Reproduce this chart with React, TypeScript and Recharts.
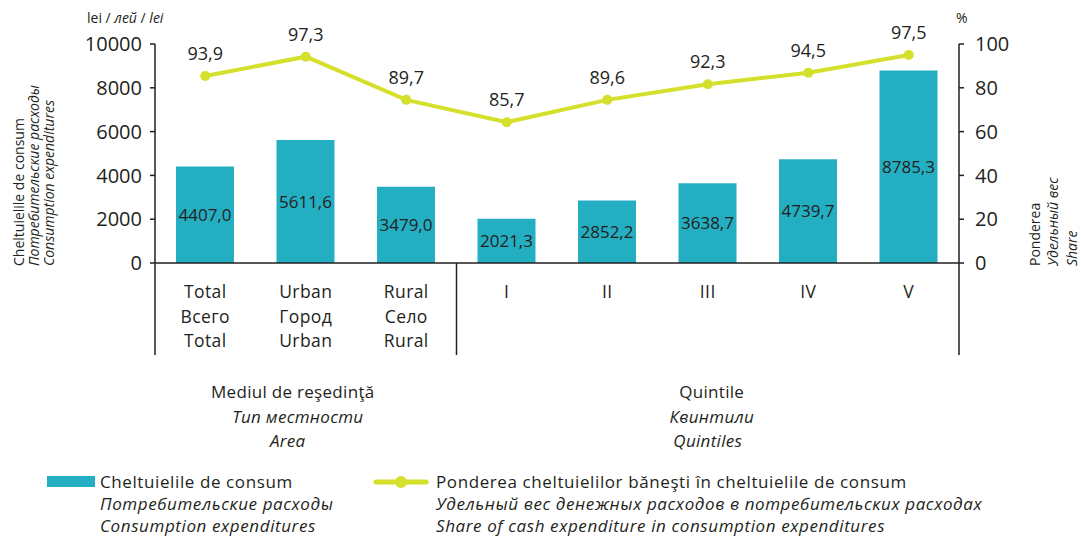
import React from 'react'
import {
  ComposedChart,
  Bar,
  Line,
  XAxis,
  YAxis,
  LabelList,
} from 'recharts'

// categories (3 lines each: ro / ru / en)
const categories = ['Total', 'Urban', 'Rural', 'I', 'II', 'III', 'IV', 'V']
const categoriesRu = ['Всего', 'Город', 'Село', '', '', '', '', '']
const categoriesEn = ['Total', 'Urban', 'Rural', '', '', '', '', '']

// consumption expenditures, lei
const spending = [4407.0, 5611.6, 3479.0, 2021.3, 2852.2, 3638.7, 4739.7, 8785.3]

// share of cash expenditure: plotted position (as drawn) and printed label
const shareDrawn = [85.4, 94.2, 74.5, 64.3, 74.5, 81.6, 86.9, 95.0]
const shareLabels = ['93,9', '97,3', '89,7', '85,7', '89,6', '92,3', '94,5', '97,5']

const leftTicks = [0, 2000, 4000, 6000, 8000, 10000]
const rightTicks = [0, 20, 40, 60, 80, 100]

const data = categories.map((c, i) => ({
  cat: c,
  spend: spending[i],
  share: shareDrawn[i],
}))

const TEAL = '#24aec2'
const LIME = '#d4e02b'
const INK = '#231f20'
const FONT = '"Open Sans", sans-serif'

const CategoryTick = (props: any) => {
  const { x, y, payload, index } = props
  const half = payload?.offset ? payload.offset : 50.25
  const i = index ?? payload.index
  return (
    <g>
      {i === 0 && <line x1={x - half} x2={x - half} y1={y} y2={y + 92} stroke={INK} strokeWidth={1.5} />}
      {i === 3 && <line x1={x - half} x2={x - half} y1={y} y2={y + 92} stroke={INK} strokeWidth={1.5} />}
      {i === 7 && <line x1={x + half} x2={x + half} y1={y} y2={y + 92} stroke={INK} strokeWidth={1.5} />}
      <g fontSize={17.5} fill={INK} fontFamily={FONT} textAnchor="middle" letterSpacing={0.4}>
        <text x={x} y={y + 35}>{categories[i]}</text>
        <text x={x} y={y + 59.5}>{categoriesRu[i]}</text>
        <text x={x} y={y + 84}>{categoriesEn[i]}</text>
      </g>
      {i === 1 && (
        <g fontSize={17} fill={INK} fontFamily={FONT} textAnchor="middle" letterSpacing={0.3}>
          <text x={x - 13} y={y + 135}>Mediul de reşedinţă</text>
          <text x={x - 8} y={y + 160} fontStyle="italic">Тип местности</text>
          <text x={x - 18} y={y + 184} fontStyle="italic">Area</text>
        </g>
      )}
      {i === 5 && (
        <g fontSize={17} fill={INK} fontFamily={FONT} textAnchor="middle" letterSpacing={0.3}>
          <text x={x + 4} y={y + 135}>Quintile</text>
          <text x={x + 4} y={y + 160} fontStyle="italic">Квинтили</text>
          <text x={x} y={y + 184} fontStyle="italic">Quintiles</text>
        </g>
      )}
    </g>
  )
}

const ShareLabel = (props: any) => {
  const { x, y, index } = props
  return (
    <text x={x} y={y - 23} textAnchor="middle" dominantBaseline="central" fontSize={18} fill={INK} fontFamily={FONT}>
      {shareLabels[index]}
    </text>
  )
}

export default function App() {
  return (
    <div style={{ position: 'absolute', left: 0, top: 0, width: 1081, height: 537, background: '#fff', fontFamily: FONT, color: INK, overflow: 'hidden' }}>
      <ComposedChart
        width={1081}
        height={537}
        data={data}
        margin={{ top: 44, right: 62, left: 95, bottom: 179 }}
      >
        <XAxis
          dataKey="cat"
          xAxisId="x"
          height={95}
          tickLine={false}
          tickSize={0}
          tickMargin={0}
          axisLine={{ stroke: INK, strokeWidth: 1.5 }}
          tick={<CategoryTick />}
          interval={0}
        />
        <YAxis
          yAxisId="left"
          width={60}
          domain={[0, 10000]}
          ticks={leftTicks}
          interval={0}
          tickSize={5}
          tickLine={{ stroke: INK, strokeWidth: 1.5 }}
          axisLine={{ stroke: INK, strokeWidth: 1.5 }}
          tick={{ fill: INK, fontSize: 20, fontFamily: FONT }}
          tickMargin={8}
        />
        <YAxis
          yAxisId="right"
          orientation="right"
          width={60}
          domain={[0, 100]}
          ticks={rightTicks}
          interval={0}
          tickSize={5}
          tickLine={{ stroke: INK, strokeWidth: 1.5 }}
          axisLine={{ stroke: INK, strokeWidth: 1.5 }}
          tick={{ fill: INK, fontSize: 20, fontFamily: FONT }}
          tickMargin={11}
        />
        <Bar xAxisId="x" yAxisId="left" dataKey="spend" fill={TEAL} barSize={58} isAnimationActive={false}>
          <LabelList
            dataKey="spend"
            position="center"
            fill={INK}
            fontSize={17}
            fontFamily={FONT}
            formatter={(v: any) => Number(v).toFixed(1).replace('.', ',')}
          />
        </Bar>
        <Line
          xAxisId="x"
          yAxisId="right"
          dataKey="share"
          stroke={LIME}
          strokeWidth={4}
          dot={{ r: 5, fill: LIME, stroke: LIME, strokeWidth: 0 }}
          isAnimationActive={false}
        >
          <LabelList dataKey="share" content={<ShareLabel />} />
        </Line>
      </ComposedChart>

      {/* axis units */}
      <div style={{ position: 'absolute', left: 87, top: 8, fontSize: 14 }}>
        lei / <i>лей</i> / <i>lei</i>
      </div>
      <div style={{ position: 'absolute', left: 956, top: 8, fontSize: 14 }}>%</div>

      {/* rotated axis titles */}
      <svg width={1081} height={537} style={{ position: 'absolute', left: 0, top: 0, pointerEvents: 'none' }}>
        <g fontSize={14} fill={INK} fontFamily={FONT}>
          <text transform="translate(24,266) rotate(-90)">Cheltuielile de consum</text>
          <text transform="translate(39,266) rotate(-90)" fontStyle="italic">Потребительские расходы</text>
          <text transform="translate(54,266) rotate(-90)" fontStyle="italic">Consumption expenditures</text>
          <text transform="translate(1040,266) rotate(-90)">Ponderea</text>
          <text transform="translate(1058,266) rotate(-90)" fontStyle="italic">Удельный вес</text>
          <text transform="translate(1077,266) rotate(-90)" fontStyle="italic">Share</text>
        </g>
      </svg>

      {/* legend */}
      <div style={{ position: 'absolute', left: 47, top: 476, width: 48, height: 11, background: TEAL }} />
      <div style={{ position: 'absolute', left: 100, top: 471, fontSize: 17, lineHeight: '22px', letterSpacing: 0.6 }}>
        <div>Cheltuielile de consum</div>
        <div><i>Потребительские расходы</i></div>
        <div><i>Consumption expenditures</i></div>
      </div>
      <svg width={60} height={20} style={{ position: 'absolute', left: 372, top: 472 }}>
        <line x1={4} x2={54} y1={10} y2={10} stroke={LIME} strokeWidth={5} strokeLinecap="round" />
        <circle cx={29} cy={10} r={6} fill={LIME} />
      </svg>
      <div style={{ position: 'absolute', left: 436, top: 471, fontSize: 17, lineHeight: '22px', letterSpacing: 0.6 }}>
        <div>Ponderea cheltuielilor băneşti în cheltuielile de consum</div>
        <div><i>Удельный вес денежных расходов в потребительских расходах</i></div>
        <div><i>Share of cash expenditure in consumption expenditures</i></div>
      </div>
    </div>
  )
}
